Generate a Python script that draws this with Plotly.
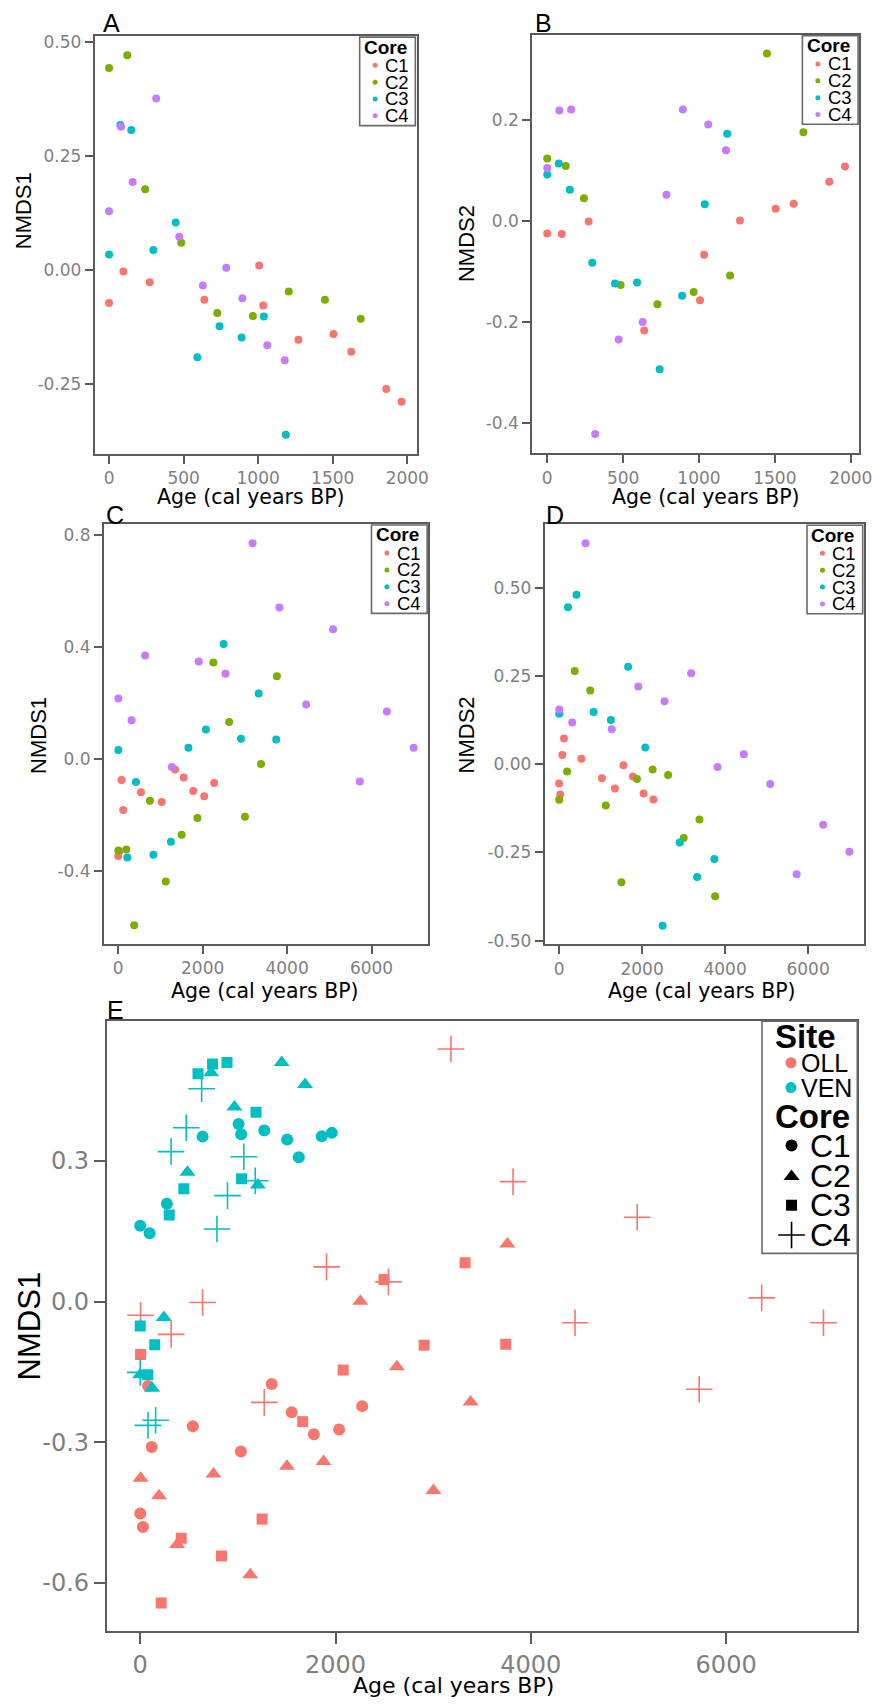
import plotly.graph_objects as go

W, H = 889, 1708

# ---------------- data ----------------
core_names = ["C1", "C2", "C3", "C4"]
core_colors = ["#F8766D", "#7CAE00", "#00BFC4", "#C77CFF"]
site_names = ["OLL", "VEN"]
site_colors = ["#F8766D", "#00BFC4"]
core_symbols = ["circle", "triangle-up", "square", "cross-thin"]

# VEN site ages (cal years BP)
ven_age_c1 = [0, 96, 273, 639, 1007, 1034, 1270, 1505, 1624, 1859, 1962]
ven_age_c2 = [0, 122, 242, 484, 726, 965, 1205, 1448, 1688]
ven_age_c3 = [0, 76, 149, 297, 447, 592, 741, 889, 1038, 1186]
ven_age_c4 = [0, 80, 158, 316, 471, 629, 786, 894, 1061, 1178]

# Panel A: VEN NMDS1
a_c1 = [-0.072, -0.003, -0.027, -0.065, 0.010, -0.078, -0.153, -0.140, -0.179, -0.261, -0.289]
a_c2 = [0.443, 0.471, 0.177, 0.060, -0.094, -0.101, -0.047, -0.065, -0.107]
a_c3 = [0.034, 0.318, 0.307, 0.044, 0.104, -0.191, -0.123, -0.148, -0.102, -0.361]
a_c4 = [0.129, 0.314, 0.193, 0.376, 0.073, -0.034, 0.005, -0.062, -0.165, -0.198]

# Panel B: VEN NMDS2
b_c1 = [-0.025, -0.026, -0.001, -0.217, -0.157, -0.067, 0.001, 0.024, 0.034, 0.078, 0.108]
b_c2 = [0.124, 0.109, 0.045, -0.127, -0.165, -0.141, -0.108, 0.332, 0.176]
b_c3 = [0.092, 0.114, 0.062, -0.083, -0.124, -0.122, -0.294, -0.148, 0.033, 0.173]
b_c4 = [0.105, 0.219, 0.221, -0.422, -0.235, -0.200, 0.052, 0.221, 0.191, 0.140]

# OLL site ages (cal years BP)
oll_age_c1 = [0, 28, 80, 118, 539, 1031, 1346, 1551, 1778, 2037, 2273]
oll_age_c2 = [4, 193, 378, 751, 1127, 1503, 1877, 2254, 2628, 3003, 3383, 3760]
oll_age_c3 = [4, 215, 420, 833, 1248, 1664, 2078, 2496, 2908, 3327, 3743]
oll_age_c4 = [4, 317, 639, 1270, 1908, 2542, 3182, 3818, 4452, 5089, 5724, 6364, 6997]

# Panel C: OLL NMDS1
c_c1 = [-0.345, -0.328, -0.074, -0.181, -0.118, -0.152, -0.037, -0.065, -0.113, -0.132, -0.085]
c_c2 = [-0.325, -0.322, -0.592, -0.148, -0.436, -0.269, -0.209, 0.345, 0.133, -0.205, -0.017, 0.296]
c_c3 = [0.033, -0.350, -0.081, -0.340, -0.294, 0.041, 0.106, 0.411, 0.073, 0.234, 0.070]
c_c4 = [0.216, 0.139, 0.370, -0.028, 0.348, 0.305, 0.770, 0.541, 0.195, 0.463, -0.079, 0.170, 0.041]

# Panel D: OLL NMDS2
d_c1 = [-0.055, -0.086, 0.026, 0.073, 0.015, -0.040, -0.069, -0.003, -0.035, -0.083, -0.100]
d_c2 = [-0.101, -0.021, 0.264, 0.209, -0.117, -0.335, -0.042, -0.015, -0.031, -0.209, -0.157, -0.374]
d_c3 = [0.143, 0.445, 0.480, 0.148, 0.125, 0.276, 0.047, -0.458, -0.222, -0.320, -0.269]
d_c4 = [0.155, 0.118, 0.626, 0.099, 0.220, 0.178, 0.258, -0.008, 0.028, -0.056, -0.312, -0.172, -0.248]

# Panel E: combined NMDS1
e_oll_c1 = [-0.452, -0.481, -0.180, -0.310, -0.266, -0.320, -0.176, -0.236, -0.283, -0.273, -0.223]
e_oll_c2 = [-0.377, -0.414, -0.518, -0.368, -0.583, -0.351, -0.341, 0.001, -0.139, -0.403, -0.214, 0.123]
e_oll_c3 = [-0.113, -0.643, -0.505, -0.543, -0.464, -0.256, -0.146, 0.047, -0.093, 0.083, -0.091]
e_oll_c4 = [-0.029, -0.070, -0.002, -0.215, 0.074, 0.042, 0.539, 0.256, -0.045, 0.180, -0.187, 0.008, -0.045]
e_ven_c1 = [0.162, 0.146, 0.209, 0.352, 0.379, 0.357, 0.365, 0.346, 0.308, 0.353, 0.360]
e_ven_c2 = [-0.156, -0.185, -0.034, 0.276, 0.488, 0.415, 0.249, 0.510, 0.463]
e_ven_c3 = [-0.052, -0.156, -0.092, 0.185, 0.241, 0.486, 0.507, 0.510, 0.262, 0.404]
e_ven_c4 = [-0.151, -0.264, -0.253, 0.320, 0.371, 0.454, 0.155, 0.226, 0.309, 0.258]

# tick labels
ticks_age_short = [0, 500, 1000, 1500, 2000]
ticks_age_short_txt = ["0", "500", "1000", "1500", "2000"]
ticks_age_long = [0, 2000, 4000, 6000]
ticks_age_long_txt = ["0", "2000", "4000", "6000"]
ticks_a_y = [-0.25, 0.0, 0.25, 0.5]
ticks_a_y_txt = ["-0.25", "0.00", "0.25", "0.50"]
ticks_b_y = [-0.4, -0.2, 0.0, 0.2]
ticks_b_y_txt = ["-0.4", "-0.2", "0.0", "0.2"]
ticks_c_y = [-0.4, 0.0, 0.4, 0.8]
ticks_c_y_txt = ["-0.4", "0.0", "0.4", "0.8"]
ticks_d_y = [-0.5, -0.25, 0.0, 0.25, 0.5]
ticks_d_y_txt = ["-0.50", "-0.25", "0.00", "0.25", "0.50"]
ticks_e_y = [-0.6, -0.3, 0.0, 0.3]
ticks_e_y_txt = ["-0.6", "-0.3", "0.0", "0.3"]

x_title = "Age (cal years BP)"

# ---------------- layout helpers ----------------
def fx(p):
    return p / W


def fy(p):
    return 1 - p / H


BORDER = "#5a5a5a"
TICKC = "#7f7f7f"
SANS = "Liberation Sans, Arial, sans-serif"
WIDE = "DejaVu Sans, Verdana, sans-serif"

panels = {
    "A": dict(box=(96, 32.3, 422.7, 452.7), xr=[-97, 2062], yr=[-0.4035, 0.513],
              xt=(ticks_age_short, ticks_age_short_txt), yt=(ticks_a_y, ticks_a_y_txt),
              ytitle="NMDS1", ytpos=(23.3, 207.5), xtpos=(255, 496), lab=(104, 19.2)),
    "B": dict(box=(540, 31, 872, 452), xr=[-99.6, 2056], yr=[-0.4606, 0.369],
              xt=(ticks_age_short, ticks_age_short_txt), yt=(ticks_b_y, ticks_b_y_txt),
              ytitle="NMDS2", ytpos=(473.7, 240.7), xtpos=(716, 496), lab=(542, 19.2)),
    "C": dict(box=(105.3, 523, 434.7, 945.7), xr=[-342, 7346], yr=[-0.659, 0.8385],
              xt=(ticks_age_long, ticks_age_long_txt), yt=(ticks_c_y, ticks_c_y_txt),
              ytitle="NMDS1", ytpos=(38.8, 736), xtpos=(269, 993), lab=(107, 514.5)),
    "D": dict(box=(552.7, 523.3, 876.7, 946), xr=[-348, 7345], yr=[-0.511, 0.680],
              xt=(ticks_age_long, ticks_age_long_txt), yt=(ticks_d_y, ticks_d_y_txt),
              ytitle="NMDS2", ytpos=(473.7, 735), xtpos=(712, 993), lab=(552.7, 513.7)),
    "E": dict(box=(108.3, 1023.3, 870, 1636.7), xr=[-343, 7343], yr=[-0.703, 0.598],
              xt=(ticks_age_long, ticks_age_long_txt), yt=(ticks_e_y, ticks_e_y_txt),
              ytitle="NMDS1", ytpos=(30, 1329.6), xtpos=(460, 1691), lab=(108, 1011.7)),
}

fig = go.Figure()
layout = dict(width=W, height=H, margin=dict(l=0, r=0, t=0, b=0), autosize=False,
              paper_bgcolor="white", plot_bgcolor="rgba(0,0,0,0)", showlegend=False)
annotations = []
shapes = []

for idx, (name, p) in enumerate(panels.items(), start=1):
    l, t, r, b = p["box"]
    big = name == "E"
    sfx = "" if idx == 1 else str(idx)
    common = dict(showline=True, mirror=True, linecolor=BORDER, linewidth=1.6,
                  ticks="outside", ticklen=11 if big else 8, tickwidth=1.6, tickcolor=BORDER,
                  showgrid=False, zeroline=False, fixedrange=True,
                  tickfont=dict(family=WIDE, size=24 if big else 17, color=TICKC))
    layout["xaxis" + sfx] = dict(common, domain=[fx(l), fx(r)], range=p["xr"],
                                 tickvals=p["xt"][0], ticktext=p["xt"][1],
                                 anchor="y" + sfx)
    layout["yaxis" + sfx] = dict(common, domain=[fy(b), fy(t)], range=p["yr"],
                                 tickvals=p["yt"][0], ticktext=p["yt"][1],
                                 anchor="x" + sfx)
    # panel letter
    annotations.append(dict(text=name, x=fx(p["lab"][0]), y=fy(p["lab"][1]), xref="paper", yref="paper",
                            xanchor="left", yanchor="middle", showarrow=False, borderpad=0,
                            font=dict(family=SANS, size=25, color="black")))
    # axis titles
    annotations.append(dict(text=x_title, x=fx(p["xtpos"][0]), y=fy(p["xtpos"][1]), xref="paper", yref="paper",
                            xanchor="center", yanchor="middle", showarrow=False, borderpad=0,
                            font=dict(family=WIDE, size=22 if big else 20.5, color="black")))
    annotations.append(dict(text=p["ytitle"], x=fx(p["ytpos"][0]), y=fy(p["ytpos"][1]), xref="paper", yref="paper",
                            xanchor="center", yanchor="middle", showarrow=False, textangle=-90,
                            font=dict(family=SANS, size=31 if big else 22, color="black")))

# ---------------- data traces ----------------
ven_ages = [ven_age_c1, ven_age_c2, ven_age_c3, ven_age_c4]
oll_ages = [oll_age_c1, oll_age_c2, oll_age_c3, oll_age_c4]
panel_series = [
    ("x", "y", ven_ages, [a_c1, a_c2, a_c3, a_c4]),
    ("x2", "y2", ven_ages, [b_c1, b_c2, b_c3, b_c4]),
    ("x3", "y3", oll_ages, [c_c1, c_c2, c_c3, c_c4]),
    ("x4", "y4", oll_ages, [d_c1, d_c2, d_c3, d_c4]),
]
for xa, ya, ages, vals in panel_series:
    for i in range(4):
        fig.add_trace(go.Scatter(x=ages[i], y=vals[i], mode="markers", xaxis=xa, yaxis=ya,
                                 name=core_names[i], hoverinfo="x+y+name",
                                 marker=dict(color=core_colors[i], size=8, line=dict(width=0))))

e_sizes = [12, 14, 11, 19]
e_sets = [(0, oll_ages, [e_oll_c1, e_oll_c2, e_oll_c3, e_oll_c4]),
          (1, ven_ages, [e_ven_c1, e_ven_c2, e_ven_c3, e_ven_c4])]
for s, ages, vals in e_sets:
    for i in range(4):
        col = site_colors[s]
        mk = dict(color=col, size=e_sizes[i], symbol=core_symbols[i], line=dict(width=0))
        if core_symbols[i] == "cross-thin":
            mk["line"] = dict(width=1.6, color=col)
        fig.add_trace(go.Scatter(x=ages[i], y=vals[i], mode="markers", xaxis="x5", yaxis="y5",
                                 name=site_names[s] + " " + core_names[i], marker=mk))

# ---------------- legends (drawn in a pixel-space overlay) ----------------
layout["xaxis6"] = dict(domain=[0, 1], range=[0, W], visible=False, fixedrange=True, anchor="y6")
layout["yaxis6"] = dict(domain=[0, 1], range=[H, 0], visible=False, fixedrange=True, anchor="x6")


def legend_box(l, t, r, b):
    shapes.append(dict(type="rect", xref="paper", yref="paper", x0=fx(l), x1=fx(r), y0=fy(b), y1=fy(t),
                       line=dict(color="#6a6a6a", width=1.6), fillcolor="rgba(0,0,0,0)", layer="above"))


def legend_text(txt, x, y, size, bold=False):
    annotations.append(dict(text=("<b>%s</b>" % txt) if bold else txt, x=fx(x), y=fy(y),
                            xref="paper", yref="paper", xanchor="left", yanchor="middle",
                            showarrow=False, borderpad=0,
                            font=dict(family=SANS, size=size, color="black")))


item_offsets = [28.3, 45.3, 62.2, 79.2]
for name in ["A", "B", "C", "D"]:
    l, t, r, b = panels[name]["box"]
    lr, lt = r - 1.2, t + 1
    ll, lb = lr - 56.5, lt + 89
    legend_box(ll, lt, lr, lb)
    legend_text("Core", ll + 3.5, lt + 10, 19, bold=True)
    fig.add_trace(go.Scatter(x=[ll + 15.7] * 4, y=[lt + o for o in item_offsets], mode="markers",
                             xaxis="x6", yaxis="y6", hoverinfo="skip",
                             marker=dict(color=core_colors, size=5, line=dict(width=0))))
    for i in range(4):
        legend_text(core_names[i], ll + 24.5, lt + item_offsets[i], 18.5)

# panel E legend
l, t, r, b = panels["E"]["box"]
ll, lt, lr, lb = 773.3, t, r, 1256.7
legend_box(ll, lt, lr, lb)
legend_text("Site", ll + 12.5, 1038.5, 33, bold=True)
site_y = [1065, 1090]
fig.add_trace(go.Scatter(x=[802.7, 802.7], y=site_y, mode="markers", xaxis="x6", yaxis="y6",
                         hoverinfo="skip", marker=dict(color=site_colors, size=11, line=dict(width=0))))
for s in range(2):
    legend_text(site_names[s], 811.5, site_y[s], 25)
legend_text("Core", ll + 12.5, 1119, 33, bold=True)
core_y = [1148.3, 1179.3, 1208.3, 1238.3]
for i in range(4):
    mk = dict(color="black", size=e_sizes[i], symbol=core_symbols[i], line=dict(width=0))
    if core_symbols[i] == "cross-thin":
        mk["line"] = dict(width=1.6, color="black")
    fig.add_trace(go.Scatter(x=[803.3], y=[core_y[i]], mode="markers", xaxis="x6", yaxis="y6",
                             hoverinfo="skip", marker=mk))
    legend_text(core_names[i], 820.5, core_y[i], 32)

layout["annotations"] = annotations
layout["shapes"] = shapes
fig.update_layout(**layout)
fig.write_html("out.html")
